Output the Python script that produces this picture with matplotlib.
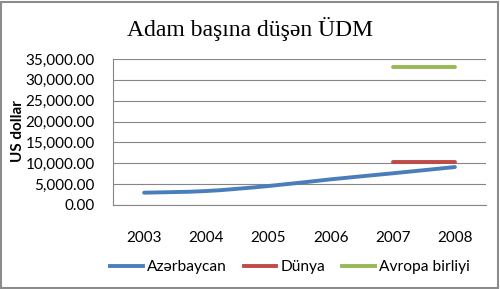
import matplotlib
matplotlib.use("Agg")
import matplotlib.pyplot as plt
from matplotlib.path import Path
from matplotlib.patches import PathPatch, Rectangle
from matplotlib.lines import Line2D

years = ["2003", "2004", "2005", "2006", "2007", "2008"]
azerbaycan = [2950, 3350, 4550, 6150, 7600, 9100]
dunya = [None, None, None, None, 10400, 10400]
avropa = [None, None, None, None, 33100, 33100]

title = "Adam başına düşən ÜDM"
ylabel = "US dollar"
yticks = [0, 5000, 10000, 15000, 20000, 25000, 30000, 35000]
series_names = ["Azərbaycan", "Dünya", "Avropa birliyi"]
colors = ["#4A7EBB", "#BE4B48", "#98B954"]

W, H = 500, 289
fig = plt.figure(figsize=(W / 100, H / 100), dpi=100)
fig.patch.set_facecolor("white")
fig.patches.append(Rectangle((1 / W, 1 / H), 1 - 3 / W, 1 - 3 / H, transform=fig.transFigure,
                             fill=False, edgecolor="#8c8c8c", linewidth=1.5))

ax = fig.add_axes([113 / W, 1 - 205 / H, (486 - 113) / W, (205 - 59) / H])
ax.set_xlim(-0.5, len(years) - 0.5)
ax.set_ylim(0, 35000)

def smooth_path(xs, ys, t=1 / 6):
    pts = list(zip(xs, ys))
    verts = [pts[0]]
    codes = [Path.MOVETO]
    n = len(pts)
    for i in range(n - 1):
        p0 = pts[i - 1] if i > 0 else pts[i]
        p1 = pts[i]
        p2 = pts[i + 1]
        p3 = pts[i + 2] if i + 2 < n else pts[i + 1]
        c1 = (p1[0] + (p2[0] - p0[0]) * t, p1[1] + (p2[1] - p0[1]) * t)
        c2 = (p2[0] - (p3[0] - p1[0]) * t, p2[1] - (p3[1] - p1[1]) * t)
        verts += [c1, c2, p2]
        codes += [Path.CURVE4] * 3
    return Path(verts, codes)

xs = list(range(len(years)))
ax.add_patch(PathPatch(smooth_path(xs, azerbaycan), fill=False, edgecolor=colors[0],
                       linewidth=2.8, capstyle="round", zorder=3))
dx = [i for i, v in enumerate(dunya) if v is not None]
ax.plot(dx, [dunya[i] for i in dx], color=colors[1], linewidth=2.8, solid_capstyle="round", zorder=3)
ex = [i for i, v in enumerate(avropa) if v is not None]
ax.plot(ex, [avropa[i] for i in ex], color=colors[2], linewidth=2.8, solid_capstyle="round", zorder=3)

ax.set_yticks(yticks)
ax.set_yticklabels([f"{v:,.2f}" for v in yticks])
ax.set_xticks(xs)
ax.set_xticklabels(years)
ax.grid(axis="y", color="#868686", linewidth=0.8)
ax.set_axisbelow(True)
for s in ["top", "right"]:
    ax.spines[s].set_visible(False)
for s in ["left", "bottom"]:
    ax.spines[s].set_color("#868686")
    ax.spines[s].set_linewidth(0.8)
ax.tick_params(axis="both", length=0, labelsize=11, colors="black")
ax.tick_params(axis="y", pad=13)
ax.tick_params(axis="x", pad=19)
for lab in ax.get_xticklabels() + ax.get_yticklabels():
    lab.set_fontfamily("Lato")

fig.text(18 / W, 1 - 131 / H, ylabel, rotation=90, ha="center", va="center",
         fontsize=11, fontweight="bold", fontfamily="Lato")
fig.text(250 / W, 1 - 29 / H, title, ha="center", va="center", fontsize=17,
         fontfamily="Liberation Serif")

handles = [Line2D([], [], color=c, lw=2.8) for c in colors]
fig.legend(handles, series_names, loc="center",
           bbox_to_anchor=(290 / W, 1 - 267 / H), ncol=3, frameon=False,
           prop={"family": "Lato", "size": 11.2}, handlelength=2.1, handletextpad=0.25,
           columnspacing=1.1)

fig.savefig("out.png", dpi=100)
